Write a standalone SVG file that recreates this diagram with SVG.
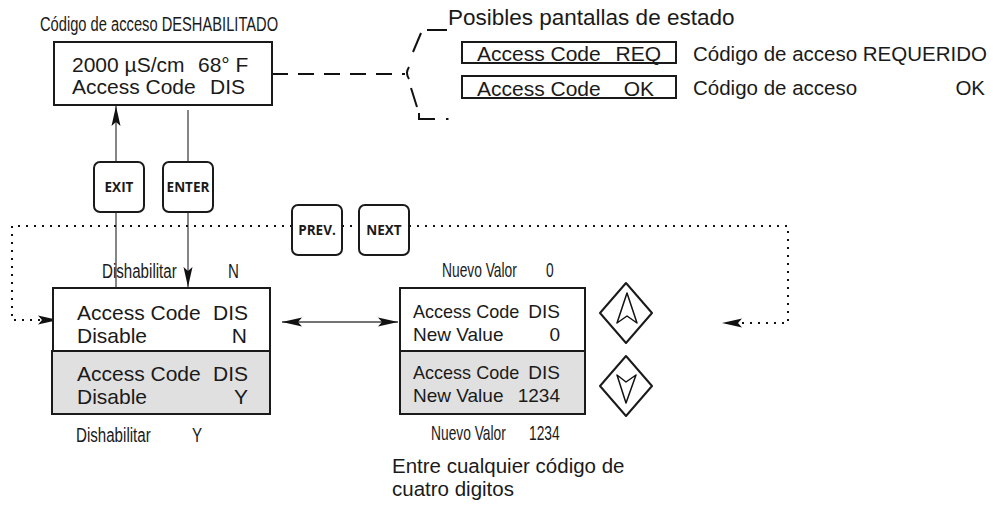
<svg xmlns="http://www.w3.org/2000/svg" width="993" height="506" viewBox="0 0 993 506">
<style>
text{font-family:"Liberation Sans",Arial,sans-serif;fill:#1a1a1a}
.lcd{font-size:21px}
.lcds{font-size:19px}
.nar{font-size:21px}
.nar20{font-size:20px}
.cap{font-size:22.5px}
.desc{font-size:20.5px}
.btn{font-family:"Open Sans","DejaVu Sans",sans-serif;font-weight:bold;font-size:13.5px;text-anchor:middle}
.end{text-anchor:end}
.box{fill:#fff;stroke:#1a1a1a;stroke-width:2}
.gbox{fill:#e0e0e0;stroke:#1a1a1a;stroke-width:2}
.key{fill:#fff;stroke:#1a1a1a;stroke-width:2;stroke-linejoin:round}
.thin{stroke:#444;stroke-width:1.3;fill:none}
.dot{stroke:#111;stroke-width:2;stroke-dasharray:2 6;fill:none}
.dash{stroke:#111;stroke-width:2;fill:none}
</style>
<defs>
<marker id="ah" viewBox="0 0 20 10" refX="20" refY="5" markerWidth="20" markerHeight="10" markerUnits="userSpaceOnUse" orient="auto-start-reverse">
<path d="M0,0.5 L20,5 L0,9.5 L4,5 z" fill="#111"/>
</marker>
</defs>
<rect width="993" height="506" fill="#fff"/>

<g id="connectors">
<line class="thin" x1="116" y1="288" x2="116" y2="106" marker-end="url(#ah)"/>
<line class="thin" x1="188" y1="110" x2="188" y2="287" marker-end="url(#ah)"/>
<path class="dot" d="M292,226 H12 V320 H58" marker-end="url(#ah)"/>
<path class="dot" d="M342,226 H359"/>
<path class="dot" d="M409,226 H788 V323 H722" marker-end="url(#ah)"/>
<line class="thin" x1="282" y1="322" x2="398" y2="322" marker-start="url(#ah)" marker-end="url(#ah)"/>
<path class="dash" stroke-dasharray="16 10" d="M272,74 H405"/>
<path class="dash" d="M409,67 Q405,73 409,79"/>
<line class="dash" x1="413" y1="52" x2="421" y2="33"/>
<line class="dash" x1="427" y1="30" x2="447" y2="30"/>
<line class="dash" x1="411" y1="88" x2="417" y2="107"/>
<path class="dash" d="M419,113 V119 H435"/>
<line class="dash" x1="446" y1="119" x2="448.5" y2="119"/>
</g>

<g id="title">
<text class="nar" transform="translate(40,31) scale(0.7,1)">Código de acceso DESHABILITADO</text>
</g>

<g id="display-main">
<rect class="box" x="54" y="42" width="218" height="63"/>
<text class="lcd" x="72" y="72">2000 µS/cm</text>
<text class="lcd" x="198" y="72">68° F</text>
<text class="lcd" x="72" y="94">Access Code</text>
<text class="lcd end" x="245" y="94">DIS</text>
</g>

<g id="status-title">
<text class="cap" x="448" y="25">Posibles pantallas de estado</text>
</g>
<g id="status-req">
<rect class="box" x="462" y="42" width="214" height="21"/>
<text class="lcd" x="477" y="61">Access Code</text>
<text class="lcd end" x="661" y="61">REQ</text>
<text class="desc" x="693" y="61">Código de acceso REQUERIDO</text>
</g>
<g id="status-ok">
<rect class="box" x="462" y="76" width="214" height="22"/>
<text class="lcd" x="477" y="96">Access Code</text>
<text class="lcd end" x="654" y="96">OK</text>
<text class="desc" x="693" y="95">Código de acceso</text>
<text class="desc end" x="985" y="95">OK</text>
</g>

<g id="btn-exit">
<rect class="key" x="94" y="162" width="50" height="50" rx="6"/>
<text class="btn" x="119" y="192">EXIT</text>
</g>
<g id="btn-enter">
<rect class="key" x="163" y="162" width="50" height="50" rx="6"/>
<text class="btn" x="188" y="192">ENTER</text>
</g>
<g id="btn-prev">
<rect class="key" x="292" y="205" width="50" height="50" rx="6"/>
<text class="btn" x="317" y="235">PREV.</text>
</g>
<g id="btn-next">
<rect class="key" x="359" y="205" width="50" height="50" rx="6"/>
<text class="btn" x="384" y="235">NEXT</text>
</g>

<g id="display-disable">
<text class="nar" transform="translate(102,278) scale(0.72,1)">Dishabilitar</text>
<text class="nar" transform="translate(228,278) scale(0.72,1)">N</text>
<rect class="box" x="53" y="288" width="217" height="63"/>
<rect class="gbox" x="52" y="351" width="218" height="63"/>
<text class="lcd" x="77" y="320">Access Code</text>
<text class="lcd end" x="248" y="320">DIS</text>
<text class="lcd" x="77" y="343">Disable</text>
<text class="lcd end" x="247" y="343">N</text>
<text class="lcd" x="77" y="381">Access Code</text>
<text class="lcd end" x="248" y="381">DIS</text>
<text class="lcd" x="77" y="404">Disable</text>
<text class="lcd end" x="248" y="404">Y</text>
<text class="nar" transform="translate(76,442) scale(0.72,1)">Dishabilitar</text>
<text class="nar" transform="translate(192,442) scale(0.72,1)">Y</text>
</g>

<g id="display-value">
<text class="nar20" transform="translate(442,277) scale(0.69,1)">Nuevo Valor</text>
<text class="nar20" transform="translate(546,277) scale(0.69,1)">0</text>
<rect class="box" x="400" y="288" width="185" height="63"/>
<rect class="gbox" x="400" y="351" width="185" height="63"/>
<text class="lcds" transform="translate(413,318) scale(0.95,1)">Access Code</text>
<text class="lcds end" x="560" y="318">DIS</text>
<text class="lcds" x="413" y="341">New Value</text>
<text class="lcds end" x="560" y="341">0</text>
<text class="lcds" transform="translate(413,379) scale(0.95,1)">Access Code</text>
<text class="lcds end" x="560" y="379">DIS</text>
<text class="lcds" x="413" y="402">New Value</text>
<text class="lcds end" x="560" y="402">1234</text>
<text class="nar20" transform="translate(431,440) scale(0.69,1)">Nuevo Valor</text>
<text class="nar20" transform="translate(529,440) scale(0.69,1)">1234</text>
<text class="desc" x="392" y="473">Entre cualquier código de</text>
<text class="desc" x="392" y="496">cuatro digitos</text>
</g>

<g id="btn-up">
<path class="key" d="M626,283 L652,313 L626,343 L600,313 Z"/>
<path d="M627,293 L637,323 L627,316 L617,323 Z" fill="#fff" stroke="#111" stroke-width="1.5" stroke-linejoin="round"/>
</g>
<g id="btn-down">
<path class="key" d="M626,356 L652,386 L626,416 L600,386 Z"/>
<path d="M626,403 L636,375 L626,382 L617,375 Z" fill="#fff" stroke="#111" stroke-width="1.5" stroke-linejoin="round"/>
</g>
</svg>
